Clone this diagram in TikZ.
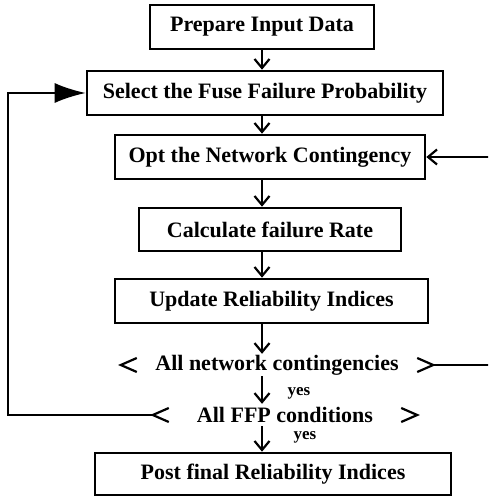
\documentclass[tikz,border=0pt]{standalone}
\usepackage{fontspec}
\setmainfont{Liberation Serif}
\usetikzlibrary{calc, arrows.meta}

\tikzset{
	stepbox/.style = {draw, line width=2.6pt, minimum height=44pt, inner sep=0pt, font=\fontsize{22}{24}\selectfont\bfseries},
	cond/.style = {minimum height=22pt, inner sep=0pt, font=\fontsize{22}{24}\selectfont\bfseries},
	chev/.style = {line width=2.2pt},
	flow/.style = {line width=2pt, -{Straight Barb[length=9pt, width=15pt, line width=2.2pt]}},
	back/.style = {line width=2pt, -{Latex[length=31pt, width=20pt]}},
	yeslab/.style = {font=\fontsize{17}{18}\selectfont\bfseries, inner sep=0pt}
}

% chevrons either side of a condition
\newcommand{\chevrons}[1]{%
	\draw[chev] ($(#1.west)+(0,-7)$) -- ++(-16,7) coordinate (#1-l) -- ++(16,7);
	\draw[chev] ($(#1.east)+(0,-7)$) -- ++(16,7) coordinate (#1-r) -- ++(-16,7);
}

\begin{document}
\begin{tikzpicture}[x=1pt, y=-1pt]
			\clip (0,0) rectangle (488,497);

			\coordinate (ax) at (262,0);

			\node[stepbox, minimum width=224pt] (prep) at (262,27) {Prepare Input Data};
			\node[stepbox, minimum width=356pt] (sel) at (265,93) {Select the Fuse Failure Probability};
			\node[stepbox, minimum width=310pt] (opt) at (270,157) {Opt the Network Contingency};
			\node[stepbox, minimum width=262pt, minimum height=43pt] (calc) at (270,229.5) {Calculate failure Rate};
			\node[stepbox, minimum width=313pt] (upd) at (271.5,301) {Update Reliability Indices};
			\node[cond, minimum width=280pt] (allnet) at (277,365) {All network contingencies};
			\node[cond, minimum width=232pt] (allffp) at (285,415) {All FFP conditions};
			\node[stepbox, minimum width=356pt, minimum height=42pt] (post) at (273,474) {Post final Reliability Indices};

			\chevrons{allnet}
			\chevrons{allffp}

			\foreach \a/\b in {prep/sel, sel/opt, opt/calc, calc/upd, upd/allnet, allnet/allffp, allffp/post}
			{
				\draw[flow] (\a.south -| ax) -- (\b.north -| ax);
			}

			\node[yeslab] (yesa) at (299,393) {yes};
			\node[yeslab] (yesb) at (305,437) {yes};

			% loops back
			\draw[flow] (allnet-r) -- ++(70,0) |- (opt.east);
			\draw[back] (allffp-l) -- ++(-145,0) |- (sel.west);
		\end{tikzpicture}
\end{document}
